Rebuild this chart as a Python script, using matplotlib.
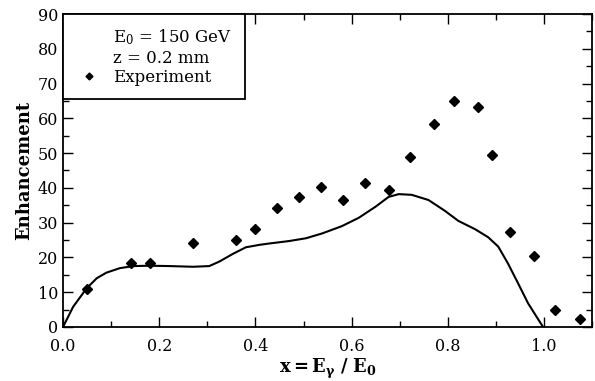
import matplotlib
matplotlib.use('Agg')
import matplotlib.pyplot as plt
from matplotlib.lines import Line2D
from matplotlib.ticker import MultipleLocator, FormatStrFormatter

# Экспериментальные точки
exp_x = [0.05, 0.141, 0.18, 0.271, 0.36, 0.40, 0.445, 0.49, 0.536, 0.582,
         0.627, 0.677, 0.722, 0.772, 0.812, 0.863, 0.892, 0.929, 0.979,
         1.023, 1.074]
exp_y = [10.9, 18.3, 18.3, 24.0, 25.1, 28.3, 34.3, 37.4, 40.3, 36.6,
         41.4, 39.4, 48.9, 58.3, 64.9, 63.2, 49.4, 27.4, 20.3,
         4.9, 2.3]

# Теоретическая кривая
th_x = [0.0, 0.021, 0.049, 0.07, 0.09, 0.118, 0.146, 0.18, 0.222, 0.27,
        0.304, 0.325, 0.353, 0.38, 0.408, 0.429, 0.47, 0.505, 0.539, 0.58,
        0.615, 0.65, 0.677, 0.698, 0.725, 0.76, 0.794, 0.822, 0.857, 0.884,
        0.905, 0.925, 0.946, 0.967, 0.998]
th_y = [0.0, 5.8, 11.1, 14.0, 15.6, 16.9, 17.5, 17.6, 17.5, 17.3,
        17.5, 18.8, 21.0, 22.9, 23.6, 24.0, 24.7, 25.5, 26.9, 29.0,
        31.4, 34.6, 37.4, 38.2, 38.0, 36.5, 33.4, 30.5, 28.1, 25.8,
        23.1, 18.3, 12.6, 6.8, 0.0]

plt.rcParams['font.family'] = ['DejaVu Serif']
plt.rcParams['mathtext.fontset'] = 'dejavuserif'

fig = plt.figure(figsize=(5.95, 3.81), dpi=100)
ax = fig.add_axes([0.106, 0.142, 0.889, 0.821])

ax.plot(th_x, th_y, color='black', lw=1.5)
ax.plot(exp_x, exp_y, linestyle='none', marker='D', ms=5.2, color='black')

ax.set_xlim(0, 1.1)
ax.set_ylim(0, 90)
ax.xaxis.set_major_locator(MultipleLocator(0.2))
ax.xaxis.set_minor_locator(MultipleLocator(0.1))
ax.yaxis.set_major_locator(MultipleLocator(10))
ax.yaxis.set_minor_locator(MultipleLocator(5))
ax.xaxis.set_major_formatter(FormatStrFormatter('%.1f'))
ax.tick_params(which='both', direction='in', top=True, right=True, labelsize=11.5)
ax.tick_params(axis='x', pad=8)
ax.tick_params(which='major', length=7, width=1)
ax.tick_params(which='minor', length=4, width=1)
for s in ax.spines.values():
    s.set_linewidth(1.3)

ax.set_xlabel(r'$\mathbf{x = E_\gamma\ /\ E_0}$', fontsize=13, labelpad=1)
ax.set_ylabel('Enhancement', fontsize=13, fontweight='bold', labelpad=3)

handles = [Line2D([], [], linestyle='none'),
           Line2D([], [], linestyle='none'),
           Line2D([], [], linestyle='none', marker='D', ms=3.5, color='black')]
labels = [r'E$_0$ = 150 GeV', 'z = 0.2 mm', 'Experiment']
leg = ax.legend(handles, labels, loc='upper left', bbox_to_anchor=(0, 1),
                borderaxespad=0, fancybox=False, edgecolor='black',
                framealpha=1, fontsize=12, handlelength=1.5,
                handletextpad=0.7, labelspacing=0.15, borderpad=0.8)
leg.get_frame().set_linewidth(1.3)

plt.savefig('out.png', dpi=100)
plt.close()
